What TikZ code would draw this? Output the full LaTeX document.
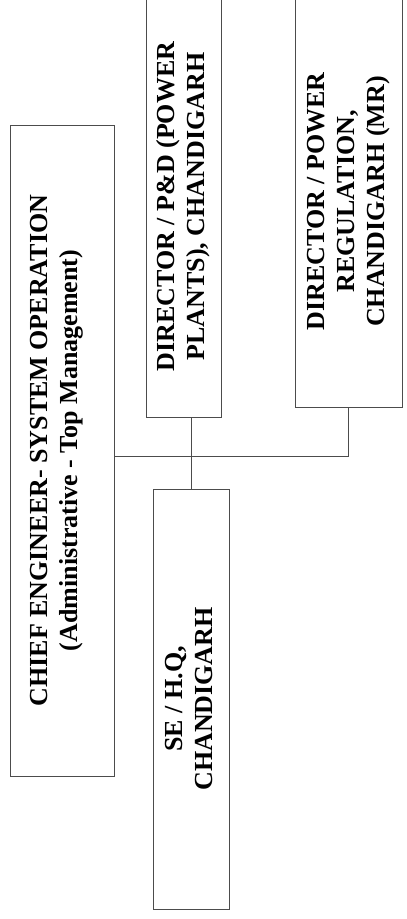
\documentclass[tikz,border=0pt]{standalone}
\usepackage{fontspec}
\setmainfont{Liberation Serif}
\begin{document}
\begin{tikzpicture}[x=1pt,y=-1pt,
  post/.style={draw=black!70, line width=1pt, inner sep=0pt,
    font=\bfseries\fontsize{26}{30}\selectfont},
  link/.style={draw=black!70, line width=0.9pt}]
\useasboundingbox (0,0) rectangle (407,919);
\clip (0,0) rectangle (407,919);

% head of the wing
\node[post, minimum width=104pt, minimum height=651pt] (ce) at (62,450.5)
  {\hspace*{-12pt}\rotatebox{90}{\begin{tabular}{@{}c@{}}CHIEF ENGINEER- SYSTEM OPERATION\\(Administrative - Top Management)\end{tabular}}};

% directors
\node[post, minimum width=75pt, minimum height=421pt] (pd) at (183.5,206.5)
  {\rotatebox{90}{\begin{tabular}{@{}c@{}}DIRECTOR / P\&D (POWER\\PLANTS), CHANDIGARH\end{tabular}}};
\node[post, minimum width=107pt, minimum height=411pt] (pw) at (348.5,201.5)
  {\rotatebox{90}{\begin{tabular}{@{}c@{}}DIRECTOR / POWER\\REGULATION,\\CHANDIGARH (MR)\end{tabular}}};

% superintending engineer
\node[post, minimum width=76pt, minimum height=420pt] (se) at (191,699)
  {\rotatebox{90}{\begin{tabular}{@{}c@{}}SE / H.Q,\\CHANDIGARH\end{tabular}}};

% reporting lines
\coordinate (bus) at (0,456);
\draw[link] (ce.east |- bus) -| (pw.south);
\draw[link] (pd.south -| se.north) -- (se.north);
\end{tikzpicture}
\end{document}
